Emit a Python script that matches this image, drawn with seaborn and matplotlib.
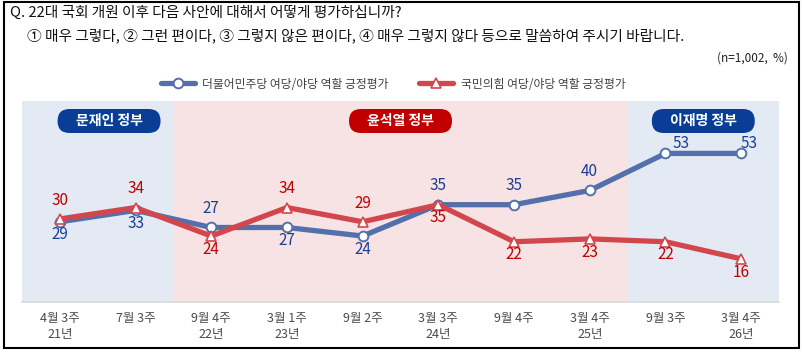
import numpy as np
import pandas as pd
import matplotlib.pyplot as plt
import seaborn as sns
from matplotlib.patches import FancyBboxPatch, Rectangle

# --- data ---
periods = ["4월 3주\n21년", "7월 3주", "9월 4주\n22년", "3월 1주\n23년", "9월 2주",
           "3월 3주\n24년", "9월 4주", "3월 4주\n25년", "9월 3주", "3월 4주\n26년"]
dem_values = [29, 33, 27, 27, 24, 35, 35, 40, 53, 53]
ppp_values = [30, 34, 24, 34, 29, 35, 22, 23, 22, 16]
dem_label_pos = ["below", "below", "above", "below", "below", "above", "above", "above", "upright", "upright"]
ppp_label_pos = ["above", "above", "below", "above", "above", "below", "below", "below", "below", "below"]
dem_name = "더불어민주당 여당/야당 역할 긍정평가"
ppp_name = "국민의힘 여당/야당 역할 긍정평가"
governments = ["문재인 정부", "윤석열 정부", "이재명 정부"]
gov_spans = [(-0.5, 1.5), (1.5, 7.5), (7.5, 9.5)]
gov_label_x = [0.65, 4.5, 8.5]

BLUE_LINE = "#5470AC"
RED_LINE = "#D2464D"
BLUE_TXT = "#1C3F94"
RED_TXT = "#C00000"
BLUE_BG = "#E3EAF4"
RED_BG = "#F7E3E4"
PILL_BLUE = "#0A3E96"
PILL_RED = "#C00000"

# label offsets in points (dx, dy)
OFFSETS = {"above": (0, 13.5), "below": (0, -9.5), "upright": (11, 7.5)}

df = pd.DataFrame({"idx": np.arange(len(periods)), "dem": dem_values, "ppp": ppp_values})

sns.set_theme(style="white")
plt.rcParams["font.family"] = ["Noto Sans CJK KR", "DejaVu Sans"]

fig = plt.figure(figsize=(8.03, 3.53), dpi=100)
ax = fig.add_axes([22 / 803, 1 - 302 / 353, 757 / 803, 201 / 353])

ax.set_xlim(-0.5, 9.5)
ax.set_ylim(0.85, 71.4)

# background spans per government
for (x0, x1), bg in zip(gov_spans, [BLUE_BG, RED_BG, BLUE_BG]):
    ax.axvspan(x0, x1, color=bg, lw=0, zorder=0)

sns.lineplot(data=df, x="idx", y="dem", ax=ax, color=BLUE_LINE, lw=3.8,
             marker="o", markersize=7, markerfacecolor="white",
             markeredgecolor=BLUE_LINE, markeredgewidth=1.4, label=dem_name, zorder=3)
sns.lineplot(data=df, x="idx", y="ppp", ax=ax, color=RED_LINE, lw=3.8,
             marker="^", markersize=7, markerfacecolor="white",
             markeredgecolor=RED_LINE, markeredgewidth=1.2, label=ppp_name, zorder=4)

# value labels
for vals, poss, col in [(dem_values, dem_label_pos, BLUE_TXT), (ppp_values, ppp_label_pos, RED_TXT)]:
    for i, (v, p) in enumerate(zip(vals, poss)):
        dx, dy = OFFSETS[p]
        if p == "upright" and i == len(vals) - 1:
            dx = 6
        ax.annotate(str(v), (i, v), xytext=(dx, dy), textcoords="offset points",
                    ha="center", va="center", fontsize=11, color=col, zorder=6)

# government pills
px_per_x = 757 / 10
px_per_y = 201 / (71.4 - 0.85)
pill_w = 103 / px_per_x
pill_h = 24 / px_per_y
pill_y = 0.85 + (302 - 121) / px_per_y
for name, cx, c in zip(governments, gov_label_x, [PILL_BLUE, PILL_RED, PILL_BLUE]):
    box = FancyBboxPatch((cx - pill_w / 2, pill_y - pill_h / 2), pill_w, pill_h,
                         boxstyle=f"round,pad=0,rounding_size={12 / px_per_x}",
                         mutation_aspect=px_per_x / px_per_y,
                         fc=c, ec="none", zorder=5)
    ax.add_patch(box)
    ax.text(cx, pill_y, name, ha="center", va="center", color="white",
            fontsize=10, fontweight="bold", zorder=6)

# axes styling
for s in ["top", "right", "left"]:
    ax.spines[s].set_visible(False)
ax.spines["bottom"].set_color("#D9D9D9")
ax.spines["bottom"].set_linewidth(1.2)
ax.set_yticks([])
ax.set_xticks(np.arange(len(periods)))
ax.set_xticklabels(periods, fontsize=9, color="#4a4a4a", linespacing=1.35)
ax.set_xticks(np.arange(-0.5, 10, 1), minor=True)
ax.tick_params(axis="x", which="major", length=0, pad=7)
ax.tick_params(axis="x", which="minor", length=3, direction="in", color="#D9D9D9", width=1.2)
ax.set_xlabel("")
ax.set_ylabel("")
ax.get_legend().remove()

# legend
handles, labels = ax.get_legend_handles_labels()
fig.legend(handles, labels, loc="center", bbox_to_anchor=(393 / 803, 1 - 84 / 353),
           ncol=2, frameon=False, fontsize=8.5, handlelength=2.9, columnspacing=2.6,
           handletextpad=0.6, labelcolor="#404040")

# title texts
fig.text(10 / 803, 1 - 13 / 353, "Q. 22대 국회 개원 이후 다음 사안에 대해서 어떻게 평가하십니까?",
         ha="left", va="center", fontsize=10.6, color="#111111")
fig.text(27 / 803, 1 - 36 / 353,
         "① 매우 그렇다, ② 그런 편이다, ③ 그렇지 않은 편이다, ④ 매우 그렇지 않다 등으로 말씀하여 주시기 바랍니다.",
         ha="left", va="center", fontsize=10.6, color="#111111")
fig.text(788 / 803, 1 - 58 / 353, "(n=1,002,  %)", ha="right", va="center",
         fontsize=8.5, color="#222222")

# outer frame
fig.patches.append(Rectangle((4 / 803, 1 - 348 / 353), 795 / 803, 346 / 353,
                             transform=fig.transFigure, fill=False, ec="black", lw=1.5))

fig.savefig("out.png", dpi=100)
